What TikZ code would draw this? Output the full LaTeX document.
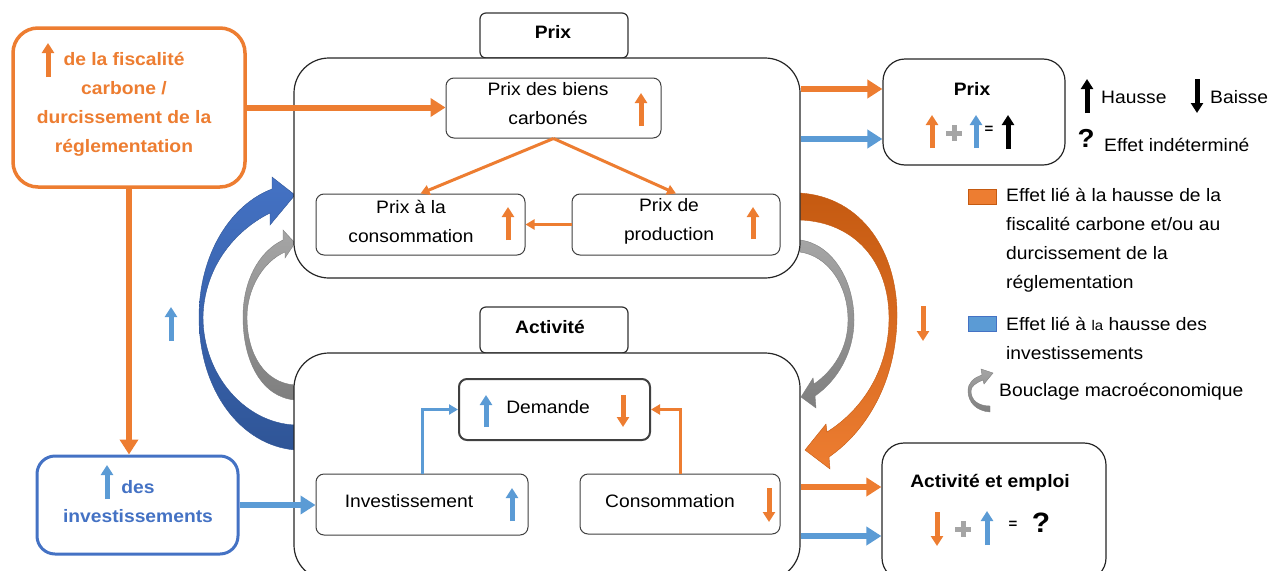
\documentclass[tikz,border=0pt]{standalone}
\usepackage{fontspec}
\setmainfont{Liberation Sans}[FakeStretch=1.07]
\usetikzlibrary{arrows.meta}
\definecolor{corange}{HTML}{ED7D31}
\definecolor{cdorange}{HTML}{C55A11}
\definecolor{clblue}{HTML}{5B9BD5}
\definecolor{cblue}{HTML}{4472C4}
\definecolor{cdblue}{HTML}{2F5597}
\definecolor{cgray}{HTML}{A5A5A5}
\definecolor{cdgray}{HTML}{7F7F7F}
\tikzset{
  txt/.style={font=\fontsize{18}{29}\selectfont, align=center, inner sep=0pt},
  hdr/.style={font=\fontsize{18}{29}\selectfont\bfseries, align=center, inner sep=0pt},
  inbox/.style={draw=black!75, line width=1pt, rounded corners=8pt, fill=white, inner sep=0pt},
  bigbox/.style={draw=black!85, line width=1.2pt, rounded corners=35pt, fill=white, inner sep=0pt},
  tabbox/.style={draw=black!80, line width=1.2pt, rounded corners=6pt, fill=white, inner sep=0pt},
  resbox/.style={draw=black!85, line width=1.2pt, rounded corners=22pt, fill=white, inner sep=0pt},
  blockarr/.style={line width=6pt, -{Triangle[width=18pt,length=15pt]}},
  linkarr/.style={line width=3pt, -{Triangle[width=10pt,length=9pt]}},
  icoarr/.style={line width=5pt, -{Triangle[width=12pt,length=10pt]}},
  plus/.style={cgray, line width=5pt}
}
\begin{document}
\begin{tikzpicture}[x=1pt,y=-1pt]
\useasboundingbox (0,0) rectangle (1273,570);

% macro loops (behind the boxes)
\shade[top color=cblue, bottom color=cdblue, draw=cdblue, line width=0.4pt] (295,450) .. controls (240,445) and (199,390) .. (199,317) .. controls (199,255) and (230,205) .. (272,189) -- (272,177) -- (295,195) -- (270,225) -- (270,213) .. controls (232,232) and (204,270) .. (203,317) .. controls (203,375) and (245,423) .. (295,425) -- cycle;
\shade[top color=cgray, bottom color=cdgray, draw=cdgray, line width=0.4pt] (295,400) .. controls (262,397) and (243,362) .. (243,317) .. controls (243,282) and (258,252) .. (283,240) -- (283,230) -- (295,243) -- (285,258) -- (285,252) .. controls (262,262) and (247,290) .. (247,317) .. controls (247,355) and (265,383) .. (295,385) -- cycle;
\shade[top color=cdorange, bottom color=corange, draw=cdorange, line width=0.4pt] (800,193) .. controls (862,197) and (898,252) .. (897,318) .. controls (896,380) and (868,430) .. (829,457) -- (830,469) -- (805,450) -- (826,424) -- (827,432) .. controls (862,410) and (889,370) .. (889,318) .. controls (889,262) and (855,222) .. (800,220) -- cycle;
\shade[top color=cgray, bottom color=cdgray, draw=cdgray, line width=0.4pt] (800,240) .. controls (832,244) and (854,280) .. (854,320) .. controls (854,352) and (838,380) .. (815,396) -- (816,408) -- (801,397) -- (813,378) -- (814,384) .. controls (834,370) and (848,348) .. (848,320) .. controls (848,285) and (828,256) .. (800,252) -- cycle;

% boxes
\node[draw=corange, line width=3.5pt, rounded corners=25pt, fill=white, minimum width=232pt, minimum height=159pt] (fisc) at (129,107.5) {};
\node[draw=cblue, line width=3pt, rounded corners=18pt, fill=white, minimum width=201pt, minimum height=98pt] (invb) at (137.5,505) {};
\node[tabbox, minimum width=148pt, minimum height=45pt] (prixtab) at (554,35.5) {};
\node[bigbox, minimum width=506pt, minimum height=220pt] (prixbox) at (547,168) {};
\node[inbox, minimum width=215pt, minimum height=60pt] (biens) at (553.5,108) {};
\node[inbox, minimum width=209pt, minimum height=61pt] (pconso) at (420.5,224.5) {};
\node[inbox, minimum width=208pt, minimum height=61pt] (pprod) at (676,224.5) {};
\node[tabbox, minimum width=148pt, minimum height=46pt] (acttab) at (554,330) {};
\node[bigbox, minimum width=506pt, minimum height=227pt] (actbox) at (547,466.5) {};
\node[inbox, line width=2pt, minimum width=191pt, minimum height=61pt] (demande) at (554.5,409.5) {};
\node[inbox, minimum width=212pt, minimum height=61pt] (invest) at (422,504.5) {};
\node[inbox, minimum width=200pt, minimum height=60pt] (conso) at (680,504) {};
\node[resbox, minimum width=182pt, minimum height=106pt] (resprix) at (974,112) {};
\node[resbox, minimum width=224pt, minimum height=137pt] (resact) at (994,511.5) {};

% texts
\node[hdr, text=corange] (fiscT) at (124,104.5) {de la fiscalité\\carbone /\\durcissement de la\\réglementation};
\node[hdr, text=cblue] (invbT) at (138,502) {des\\investissements};
\node[hdr] (prixtabT) at (553,32) {Prix};
\node[hdr] (acttabT) at (550,327) {Activité};
\node[txt] (biensT) at (548,103.5) {Prix des biens\\carbonés};
\node[txt] (pconsoT) at (411,221) {Prix à la\\consommation};
\node[txt] (pprodT) at (669,221) {Prix de\\production};
\node[txt] (demandeT) at (548,407) {Demande};
\node[txt] (investT) at (409,501) {Investissement};
\node[txt] (consoT) at (670,501) {Consommation};
\node[hdr] (resprixT) at (972,89) {Prix};
\node[hdr] (resactT) at (990,483) {Activité et emploi};

% connectors
\coordinate (po) at (0,89); \coordinate (pb) at (0,139);
\coordinate (ao) at (0,487); \coordinate (ab) at (0,536);
\draw[blockarr, corange] (fisc.east) -- (fisc.east -| biens.west);
\draw[blockarr, corange] (fisc.south) -- (fisc.south |- invb.north);
\draw[blockarr, clblue] (invb.east) -- (invb.east -| invest.west);
\draw[blockarr, corange] (prixbox.east |- po) -- (resprix.west |- po);
\draw[blockarr, clblue] (prixbox.east |- pb) -- (resprix.west |- pb);
\draw[blockarr, corange] (actbox.east |- ao) -- (resact.west |- ao);
\draw[blockarr, clblue] (actbox.east |- ab) -- (resact.west |- ab);
\draw[linkarr, corange] (biens.south) -- (pconso.north);
\draw[linkarr, corange] (biens.south) -- (pprod.north);
\draw[linkarr, corange] (pprod.west) -- (pconso.east);
\draw[linkarr, clblue] (invest.north) |- (demande.west);
\draw[linkarr, corange] (conso.north) |- (demande.east);

% up / down marks
\draw[icoarr, corange] (48,77) -- (48,43);
\draw[icoarr, clblue] (107,499) -- (107,465);
\draw[icoarr, clblue] (171,341) -- (171,307);
\draw[icoarr, corange] (923,306) -- (923,341);
\draw[icoarr, corange] (641,126) -- (641,93);
\draw[icoarr, corange] (508,240) -- (508,207);
\draw[icoarr, corange] (753,239) -- (753,207);
\draw[icoarr, clblue] (486,427) -- (486,395);
\draw[icoarr, corange] (623,395) -- (623,427);
\draw[icoarr, clblue] (512,521) -- (512,488);
\draw[icoarr, corange] (769,488) -- (769,522);

% sums
\draw[icoarr, corange] (932,148) -- (932,115);
\draw[plus] (954,125) -- (954,141) (946,133) -- (962,133);
\draw[icoarr, clblue] (976,148) -- (976,115);
\node[hdr, font=\fontsize{14}{14}\selectfont\bfseries] (eqP) at (989,130) {=};
\draw[icoarr, black] (1008,149) -- (1008,115);
\draw[icoarr, corange] (937,512) -- (937,546);
\draw[plus] (963,521) -- (963,537) (955,529) -- (971,529);
\draw[icoarr, clblue] (987,545) -- (987,511);
\node[hdr, font=\fontsize{14}{14}\selectfont\bfseries] (eqA) at (1013,525) {=};
\node[hdr, font=\fontsize{28}{28}\selectfont\bfseries] (qA) at (1041,523) {?};

% legend
\draw[icoarr, black] (1087,113) -- (1087,79);
\node[txt, anchor=west] (hausseT) at (1101,97) {Hausse};
\draw[icoarr, black] (1197,79) -- (1197,113);
\node[txt, anchor=west] (baisseT) at (1210,97) {Baisse};
\node[hdr, font=\fontsize{26}{26}\selectfont\bfseries] (qL) at (1086,138) {?};
\node[txt, anchor=west] (indetT) at (1104,145) {Effet indéterminé};
\node[draw=cdorange, fill=corange, minimum width=28pt, minimum height=15pt, inner sep=0pt] (legO) at (982,196.5) {};
\node[txt, align=left, anchor=west] (legOT) at (1006,240) {Effet lié à la hausse de la\\fiscalité carbone et/ou au\\durcissement de la\\réglementation};
\node[draw=cblue, fill=clblue, minimum width=28pt, minimum height=15pt, inner sep=0pt] (legB) at (982,323.5) {};
\node[txt, align=left, anchor=west] (legBT) at (1006,338) {Effet lié à {\fontsize{14}{29}\selectfont la} hausse des\\investissements};
\shade[top color=cgray, bottom color=cdgray, draw=cdgray, line width=0.4pt] (990,412) .. controls (976,411) and (968,402) .. (968,391) .. controls (968,383) and (973,378) .. (982,375) -- (981,369) -- (993,373) -- (984,384) -- (983,380) .. controls (976,383) and (971,386) .. (971,391) .. controls (971,400) and (978,406) .. (990,406) -- cycle;
\node[txt, anchor=west] (legGT) at (999,392) {Bouclage macroéconomique};
\end{tikzpicture}
\end{document}
